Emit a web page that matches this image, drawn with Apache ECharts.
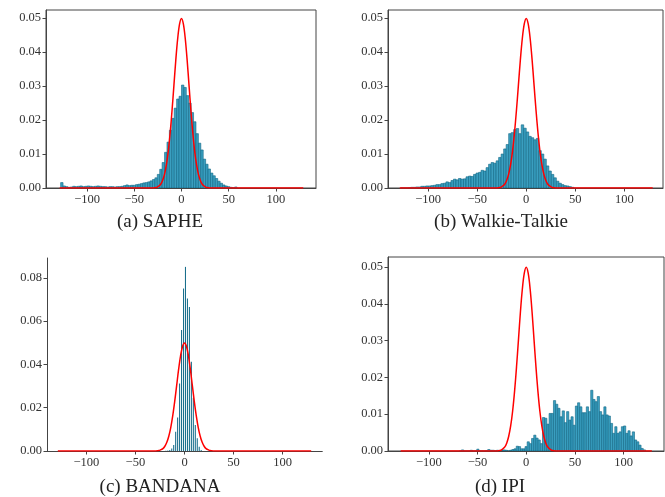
<!DOCTYPE html>
<html>
<head>
<meta charset="utf-8">
<script src="https://cdn.jsdelivr.net/npm/echarts@6/dist/echarts.min.js"></script>
<style>
  html, body { margin: 0; padding: 0; background: #fff; }
  #main { width: 665px; height: 497px; }
</style>
</head>
<body>
<div id="main"></div>
<script>
var chartDom = document.getElementById("main");
var myChart = echarts.init(chartDom);

// tick labels
var xTicks = [-100, -50, 0, 50, 100];
var yTicks05 = [0, 0.01, 0.02, 0.03, 0.04, 0.05];
var yTicks08 = [0, 0.02, 0.04, 0.06, 0.08];
var titles = ["(a) SAPHE", "(b) Walkie-Talkie", "(c) BANDANA", "(d) IPI"];

// red reference curve
var gaussX = [-129, -30, -28, -26, -24, -22, -20, -18, -16, -14, -12, -10, -8, -6, -4, -2, 0,
  2, 4, 6, 8, 10, 12, 14, 16, 18, 20, 22, 24, 26, 28, 30, 129];
var gaussY = [0, 0, 0.0001, 0.0002, 0.0006, 0.0011, 0.0022, 0.0040, 0.0068, 0.0108, 0.0162, 0.0228, 0.0302, 0.0377, 0.0440, 0.0483, 0.0499,
  0.0483, 0.0440, 0.0377, 0.0302, 0.0228, 0.0162, 0.0108, 0.0068, 0.0040, 0.0022, 0.0011, 0.0006, 0.0002, 0.0001, 0, 0];

// (a) SAPHE histogram, bins from -128, width 2.56
var sapheStart = -128;
var sapheWidth = 2.56;
var saphe = [0.0016, 0.0006, 0.0004, 0.0002, 0.0003,
  0.0005, 0.0004, 0.0005, 0.0006, 0.0004, 0.0005, 0.0006, 0.0005, 0.0004, 0.0005, 0.0006,
  0.0005, 0.0004, 0.0004, 0.0003, 0.0004, 0.0004, 0.0003, 0.0004, 0.0004, 0.0005,
  0.0007, 0.0009, 0.0007, 0.0008, 0.0008, 0.0010, 0.0011, 0.0013, 0.0015, 0.0016,
  0.0018, 0.0021, 0.0025, 0.0030, 0.0040, 0.0055, 0.0075, 0.0105, 0.0135, 0.0170,
  0.0205, 0.0235, 0.0262, 0.0270, 0.0303, 0.0296, 0.0272, 0.0250, 0.0222, 0.0195,
  0.0160, 0.0132, 0.0112, 0.0085, 0.0070, 0.0056, 0.0044, 0.0036, 0.0028, 0.0020,
  0.0014, 0.0009, 0.0006, 0.0004, 0.0002, 0.0001, 0.0003];

// (b) Walkie-Talkie histogram
var walkieStart = -128;
var walkieWidth = 2.56;
var walkie = [0, 0, 0, 0.0001, 0.0002, 0.0002, 0.0003, 0.0003, 0.0005, 0.0005,
  0.0006, 0.0006, 0.0007, 0.0008, 0.0010, 0.0010, 0.0013, 0.0014, 0.0018, 0.0016,
  0.0022, 0.0026, 0.0024, 0.0028, 0.0026, 0.0027, 0.0033, 0.0035, 0.0034, 0.0040,
  0.0044, 0.0046, 0.0052, 0.0050, 0.0060, 0.0070, 0.0075, 0.0073, 0.0080, 0.0090,
  0.0100, 0.0115, 0.0128, 0.0160, 0.0163, 0.0172, 0.0175, 0.0160, 0.0186, 0.0176,
  0.0165, 0.0152, 0.0148, 0.0142, 0.0146, 0.0110, 0.0100, 0.0085, 0.0065, 0.0050,
  0.0040, 0.0030, 0.0020, 0.0014, 0.0010, 0.0007, 0.0006, 0.0004, 0.0002];

// (c) BANDANA: narrow bars on discrete values
var bandanaX = [-19, -17, -15, -13, -11, -9, -7, -5, -3, -1, 1, 3, 5, 7, 9, 11, 13, 15, 17];
var bandana = [0.0001, 0.0002, 0.0005, 0.0012, 0.0028, 0.0089, 0.0155, 0.0312, 0.0559, 0.0751,
  0.0851, 0.0705, 0.0666, 0.0412, 0.0246, 0.0120, 0.0059, 0.0020, 0.0005];
var bandanaHalf = 0.55;

// (d) IPI histogram
var ipiStart = -68.8;
var ipiWidth = 2.25;
var ipi = [0, 0.0003, 0, 0, 0, 0.0002, 0, 0, 0.0005, 0,
  0, 0, 0.0001, 0.0004, 0.0002, 0.0002, 0.0001, 0.0002, 0, 0.0002,
  0.0003, 0.0002, 0, 0.0002, 0.0004, 0.0006, 0.0013, 0.0012, 0.0006, 0.0006,
  0.0012, 0.0025, 0.0020, 0.0034, 0.0043, 0.0035, 0.0030, 0.0020, 0.0091, 0.0089,
  0.0073, 0.0102, 0.0102, 0.0137, 0.0127, 0.0116, 0.0093, 0.0109, 0.0077, 0.0107,
  0.0084, 0.0093, 0.0070, 0.0122, 0.0131, 0.0120, 0.0104, 0.0104, 0.0120, 0.0107,
  0.0165, 0.0140, 0.0134, 0.0148, 0.0107, 0.0098, 0.0120, 0.0098, 0.0095, 0.0075,
  0.0048, 0.0066, 0.0048, 0.0052, 0.0066, 0.0068, 0.0048, 0.0055, 0.0041, 0.0052,
  0.0030, 0.0025, 0.0016, 0.0007, 0.0003];

var FONT = "Liberation Serif";
var AXIS_COLOR = "#444";
var TEXT_COLOR = "#333";

function binsFrom(start, width, values) {
  return values.map(function (v, k) {
    return [start + k * width, start + (k + 1) * width, v];
  });
}

function histSeries(idx, data, fill, stroke, lw) {
  return {
    type: "custom",
    xAxisIndex: idx,
    yAxisIndex: idx,
    silent: true,
    clip: true,
    encode: { x: [0, 1], y: 2 },
    data: data,
    renderItem: function (params, api) {
      var p0 = api.coord([api.value(0), api.value(2)]);
      var p1 = api.coord([api.value(1), 0]);
      return {
        type: "rect",
        shape: { x: p0[0], y: p0[1], width: p1[0] - p0[0], height: p1[1] - p0[1] },
        style: { fill: fill, stroke: stroke, lineWidth: lw }
      };
    }
  };
}

function curveSeries(idx) {
  return {
    type: "line",
    xAxisIndex: idx,
    yAxisIndex: idx,
    data: gaussX.map(function (x, i) { return [x, gaussY[i]]; }),
    smooth: 0.35,
    showSymbol: false,
    silent: true,
    z: 5,
    lineStyle: { color: "#ff0000", width: 1.5 }
  };
}

function xAxis(grid, min, max) {
  return {
    type: "value",
    gridIndex: grid,
    min: min,
    max: max,
    splitLine: { show: false },
    axisLine: { show: true, onZero: false, lineStyle: { color: AXIS_COLOR, width: 1 } },
    axisTick: { show: true, length: 3.5, customValues: xTicks, lineStyle: { color: AXIS_COLOR } },
    axisLabel: {
      show: true,
      customValues: xTicks,
      margin: 5,
      fontFamily: FONT,
      fontSize: 12.5,
      color: TEXT_COLOR,
      formatter: function (v) { return v < 0 ? "\u2212" + (-v) : String(v); }
    }
  };
}

function yAxis(grid, max, ticks) {
  return {
    type: "value",
    gridIndex: grid,
    min: 0,
    max: max,
    splitLine: { show: false },
    axisLine: { show: true, onZero: false, lineStyle: { color: AXIS_COLOR, width: 1 } },
    axisTick: { show: true, length: 3.5, customValues: ticks, lineStyle: { color: AXIS_COLOR } },
    axisLabel: {
      show: true,
      customValues: ticks,
      margin: 5,
      fontFamily: FONT,
      fontSize: 12.5,
      color: TEXT_COLOR,
      formatter: function (v) { return v.toFixed(2); }
    }
  };
}

var gridBase = { show: true, borderColor: AXIS_COLOR, borderWidth: 1, backgroundColor: "transparent", outerBoundsMode: "none" };

var option = {
  backgroundColor: "#fff",
  animation: false,
  grid: [
    Object.assign({}, gridBase, { left: 46, top: 10, width: 270, height: 178 }),
    Object.assign({}, gridBase, { left: 388, top: 10, width: 275, height: 178 }),
    Object.assign({}, gridBase, { left: 47, top: 258, width: 275, height: 193, show: false }),
    Object.assign({}, gridBase, { left: 388, top: 257, width: 276, height: 194 })
  ],
  xAxis: [
    xAxis(0, -143.5, 142.5),
    xAxis(1, -141, 139.5),
    xAxis(2, -140, 140),
    xAxis(3, -142, 141.5),
    // top spine for (c)
    {
      type: "value", gridIndex: 2, position: "top", min: -140, max: 140,
      splitLine: { show: false }, axisTick: { show: false }, axisLabel: { show: false },
      axisLine: { show: true, lineStyle: { color: AXIS_COLOR, width: 1.2 } }
    }
  ],
  yAxis: [
    yAxis(0, 0.0524, yTicks05),
    yAxis(1, 0.0524, yTicks05),
    yAxis(2, 0.0892, yTicks08),
    yAxis(3, 0.0527, yTicks05)
  ],
  graphic: [
    { type: "text", x: 160, y: 222, style: { text: titles[0], font: "19px " + FONT, fill: "#222", textAlign: "center", textVerticalAlign: "middle" } },
    { type: "text", x: 501, y: 222, style: { text: titles[1], font: "19px " + FONT, fill: "#222", textAlign: "center", textVerticalAlign: "middle" } },
    { type: "text", x: 160, y: 487, style: { text: titles[2], font: "19px " + FONT, fill: "#222", textAlign: "center", textVerticalAlign: "middle" } },
    { type: "text", x: 500, y: 487, style: { text: titles[3], font: "19px " + FONT, fill: "#222", textAlign: "center", textVerticalAlign: "middle" } }
  ],
  series: [
    histSeries(0, binsFrom(sapheStart, sapheWidth, saphe), "#3a9fc0", "#0f6785", 0.6),
    curveSeries(0),
    histSeries(1, binsFrom(walkieStart, walkieWidth, walkie), "#3a9fc0", "#0f6785", 0.6),
    curveSeries(1),
    histSeries(2, bandanaX.map(function (x, i) { return [x - bandanaHalf, x + bandanaHalf, bandana[i]]; }), "#1a6f8c", null, 0),
    curveSeries(2),
    histSeries(3, binsFrom(ipiStart, ipiWidth, ipi), "#3a9fc0", "#0f6785", 0.6),
    curveSeries(3)
  ]
};

option && myChart.setOption(option);
</script>
</body>
</html>
